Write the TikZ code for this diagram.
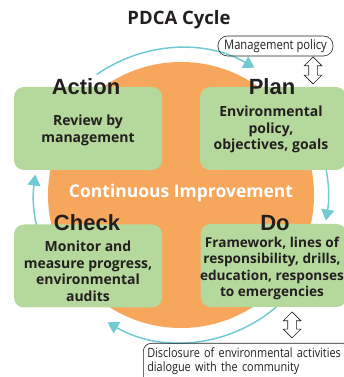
\documentclass[tikz,border=0pt]{standalone}
\usepackage{fontspec}
\setmainfont{Open Sans}
\newfontfamily\headfont{Liberation Sans}
\newfontfamily\narrowfont[FakeStretch=0.85]{Open Sans}
\usetikzlibrary{positioning, shapes.arrows, arrows.meta}
\definecolor{leaf}{RGB}{181,217,157}
\definecolor{peach}{RGB}{247,167,91}
\definecolor{aqua}{RGB}{112,203,212}
\definecolor{ink}{RGB}{35,31,32}

\begin{document}
\begin{tikzpicture}[x=1pt, y=1pt,
  stage/.style={rectangle, rounded corners=10pt, fill=leaf,
                minimum width=148pt, minimum height=83pt},
  phase/.style={font=\headfont\bfseries\fontsize{22}{22}\selectfont,
                text=ink, anchor=base, inner sep=0pt},
  detail/.style={font=\bfseries\fontsize{14}{16.5}\selectfont, text=ink,
                 align=center, inner sep=0pt},
  turn/.style={aqua, line width=1.5pt, -{Triangle[length=11pt, width=13pt]}},
  note/.style={draw=ink, line width=0.6pt, text=ink,
               font=\narrowfont\fontsize{13.2}{15}\selectfont},
  twoway/.style={double arrow, draw=ink, fill=white, line width=0.7pt,
                 rotate=90, minimum height=27pt, inner sep=4pt,
                 double arrow head extend=4.5pt}
]
  \useasboundingbox (0,0) rectangle (344,377);
  \clip (0,0) rectangle (344,377);

  \coordinate (hub) at (181,182);
  \fill[peach] (hub) circle[radius=133];

  \draw[turn] ([shift={(125:147)}]hub) arc[start angle=125, end angle=60, radius=147];
  \draw[turn] ([shift={(25:147)}]hub) arc[start angle=25, end angle=-10, radius=147];
  \draw[turn] ([shift={(-45:147)}]hub) arc[start angle=-45, end angle=-120, radius=147];
  \draw[turn] ([shift={(215:147)}]hub) arc[start angle=215, end angle=172, radius=147];

  \node[stage] (act) at (88,248.5) {};
  \node[stage, minimum width=146pt] (plan) at (273,248.5) {};
  \node[stage] (chk) at (88,111) {};
  \node[stage, minimum width=146pt] (do) at (273.5,111.5) {};

  \node[phase] (actT) at ([xshift=-2pt, yshift=-8pt]act.north) {Action};
  \node[phase] (planT) at ([xshift=-1pt, yshift=-8pt]plan.north) {Plan};
  \node[phase] (chkT) at ([xshift=-1pt, yshift=-6pt]chk.north) {Check};
  \node[phase] (doT) at ([xshift=1.5pt, yshift=-7pt]do.north) {Do};

  \node[detail] (actD) at ([yshift=-2pt]act.center) {Review by\\management};
  \node[detail] (planD) at ([xshift=-2pt, yshift=-1pt]plan.center)
    {Environmental\\policy,\\objectives, goals};
  \node[detail] (chkD) at ([yshift=-5.5pt]chk.center)
    {Monitor and\\measure progress,\\environmental\\audits};
  \node[detail, font=\bfseries\fontsize{13.6}{16.5}\selectfont] (doD)
    at ([xshift=-1.5pt, yshift=-3pt]do.center)
    {Framework, lines of\\responsibility, drills,\\education, responses\\to emergencies};

  \node[font=\bfseries\fontsize{17.5}{17.5}\selectfont, text=white, anchor=base]
    (ci) at ([yshift=-3pt]hub) {Continuous Improvement};
  \node[font=\bfseries\fontsize{18.5}{19}\selectfont, text=ink, anchor=base]
    (title) at (179,352) {PDCA Cycle};

  \node[note, rounded corners=9.5pt, minimum width=115pt, minimum height=20pt,
        inner sep=0pt] (policy) at (275.5,331) {Management policy};
  \node[twoway] (link1) at (313,306.5) {};
  \node[twoway, minimum height=26pt] (link2) at (292,52) {};

  \node[note, anchor=north west, rounded corners=8pt, align=left,
        text width=215pt, inner xsep=4pt, inner ysep=4pt, text depth=30pt,
        font=\narrowfont\fontsize{12.8}{14}\selectfont] (disc) at (143,34)
    {Disclosure of environmental activities\\dialogue with the community};
\end{tikzpicture}
\end{document}
